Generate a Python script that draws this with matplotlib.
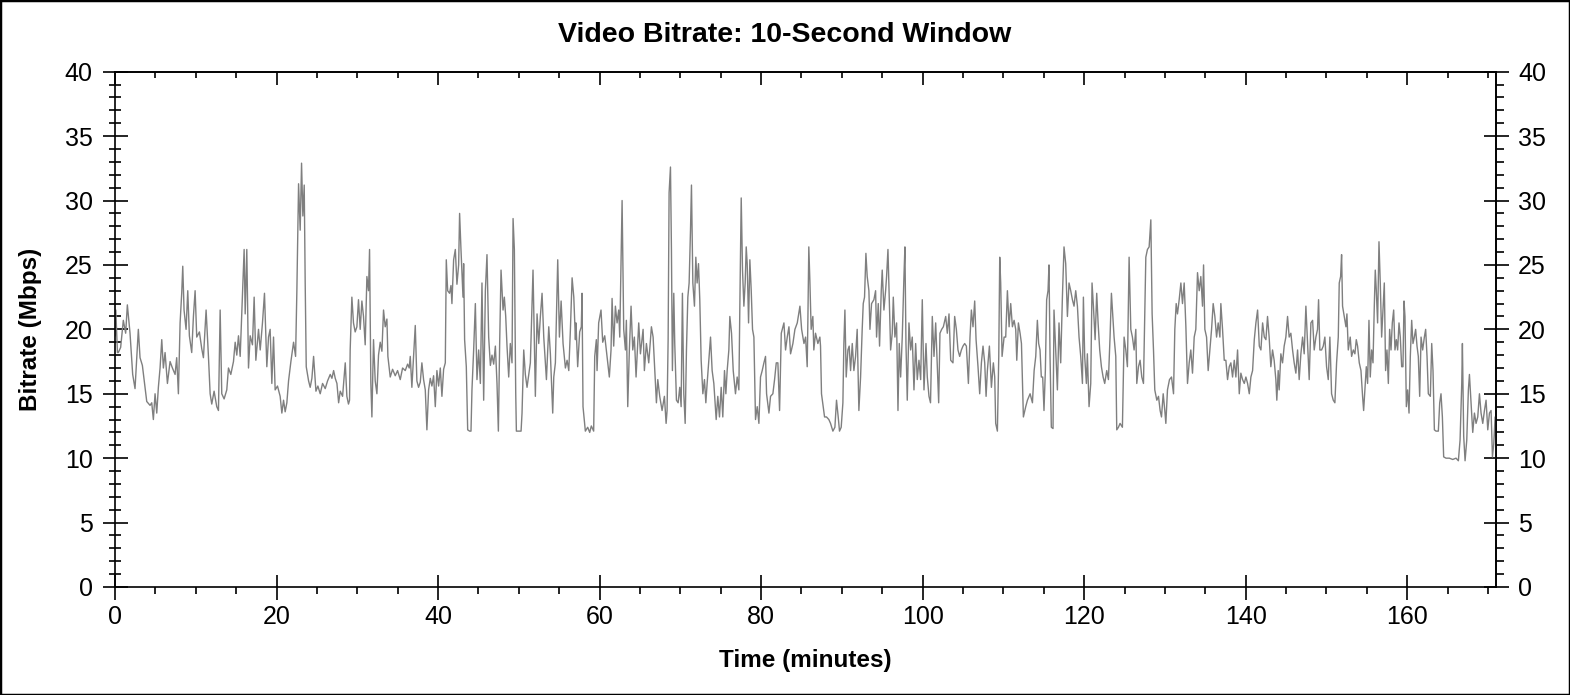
import matplotlib
matplotlib.use("Agg")
import matplotlib.pyplot as plt
from matplotlib.patches import Rectangle
from matplotlib.ticker import MultipleLocator

plt.rcParams['font.family'] = ['Liberation Sans', 'DejaVu Sans']

title = "Video Bitrate: 10-Second Window"
x_label = "Time (minutes)"
y_label = "Bitrate (Mbps)"

# 10-second window bitrate (minutes, Mbps)
minutes = [
    0.0, 0.1, 0.3, 0.41, 0.70, 1.03, 1.32, 1.53, 1.86, 2.19, 2.48, 2.89, 3.10, 3.39, 3.72, 3.93,
    4.34, 4.55, 4.75, 4.96, 5.17, 5.37, 5.58, 5.79, 5.99, 6.20, 6.49, 6.82, 7.11, 7.44, 7.64, 7.85,
    8.06, 8.26, 8.39, 8.55, 8.80, 9.01, 9.21, 9.50, 9.71, 9.92, 10.12, 10.45, 10.74, 10.95, 11.28,
    11.57, 11.78, 11.98, 12.27, 12.60, 12.81, 13.02, 13.22, 13.51, 13.84, 14.05, 14.34, 14.67,
    14.88, 15.08, 15.29, 15.50, 15.83, 15.99, 16.12, 16.32, 16.53, 16.74, 17.02, 17.23, 17.44,
    17.77, 17.98, 18.26, 18.51, 18.80, 19.01, 19.21, 19.42, 19.63, 19.83, 20.12, 20.45, 20.66,
    20.87, 21.07, 21.28, 21.49, 21.78, 22.11, 22.36, 22.52, 22.73, 22.93, 23.10, 23.26, 23.43,
    23.55, 23.68, 23.97, 24.17, 24.38, 24.59, 24.88, 25.12, 25.41, 25.70, 26.03, 26.32, 26.65,
    26.86, 27.07, 27.27, 27.48, 27.69, 27.89, 28.18, 28.51,
    28.71, 28.91, 29.04, 29.12, 29.33, 29.53, 29.74, 29.95, 30.15, 30.36, 30.57, 30.77, 30.98,
    31.19, 31.39, 31.52, 31.68, 31.81, 32.01, 32.22, 32.43, 32.63, 32.84, 33.05, 33.25, 33.46,
    33.67, 33.79, 34.08, 34.37, 34.70, 34.99, 35.32, 35.61, 35.94, 36.23, 36.43, 36.56, 36.76,
    36.97, 37.18, 37.38, 37.59, 37.80, 38.00, 38.21, 38.42, 38.62, 38.83, 39.04, 39.24, 39.45,
    39.66, 39.86, 40.07, 40.28, 40.48, 40.69, 40.90, 41.02, 41.19, 41.43, 41.60, 41.72, 41.93,
    42.14, 42.34, 42.55, 42.67, 42.84, 43.09, 43.17, 43.29, 43.50, 43.67, 43.91, 44.08, 44.20,
    44.41, 44.62, 44.82, 45.03, 45.24, 45.44, 45.65, 45.86, 46.06, 46.27, 46.48, 46.68, 46.89,
    47.10, 47.30, 47.47, 47.63, 47.80, 48.05, 48.21, 48.38, 48.54, 48.75, 48.95, 49.16, 49.29,
    49.45, 49.62, 49.70, 49.99, 50.28, 50.40, 50.61, 50.81, 51.02, 51.23, 51.43, 51.76, 52.05,
    52.26, 52.47, 52.67, 52.88, 53.09, 53.42, 53.71, 53.91, 54.20, 54.33, 54.53, 54.82, 55.03,
    55.24, 55.48, 55.77, 55.98, 56.19, 56.39, 56.60, 56.81, 57.01,
    57.08, 57.29, 57.54, 57.74, 57.83, 57.95, 58.24, 58.53, 58.78, 58.98, 59.27, 59.40, 59.60,
    59.69, 59.89, 60.18, 60.39, 60.64, 60.93, 61.21, 61.42, 61.55, 61.75, 61.96, 62.17, 62.37,
    62.50, 62.66, 62.79, 62.99, 63.20, 63.32, 63.49, 63.69, 63.90, 64.11, 64.31, 64.52, 64.85,
    65.06, 65.39, 65.55, 65.80, 66.09, 66.42, 66.63, 66.79, 67.04, 67.21, 67.45, 67.74, 68.03,
    68.24, 68.36, 68.49, 68.61, 68.78, 68.90, 69.02, 69.19, 69.31, 69.52, 69.73, 69.93, 70.10,
    70.26, 70.43, 70.60, 70.76, 70.93, 71.09, 71.26, 71.38, 71.55, 71.75, 71.92, 72.08, 72.25,
    72.41, 72.58, 72.79, 72.99, 73.16, 73.32, 73.53, 73.74, 73.94, 74.15, 74.44, 74.64, 74.85,
    75.06, 75.26, 75.47, 75.64, 75.80, 76.01, 76.13, 76.34, 76.55, 76.83, 77.04, 77.25, 77.37,
    77.54, 77.70, 77.87, 78.03, 78.16, 78.28, 78.45, 78.61, 78.78, 78.94, 79.11, 79.31, 79.52,
    79.73, 79.93, 80.14, 80.35, 80.55, 80.68, 80.97, 81.17, 81.46, 81.67, 81.88, 82.08, 82.29,
    82.50, 82.83, 83.03, 83.24, 83.45, 83.65, 83.94, 84.19, 84.48, 84.81, 85.02, 85.31, 85.51,
    85.71, 85.79, 85.91, 86.04, 86.20, 86.41, 86.53, 86.74, 87.03, 87.28, 87.36, 87.48, 87.69,
    87.86, 88.10, 88.39, 88.60, 88.89, 89.14, 89.34, 89.55, 89.71, 89.92, 90.13, 90.25, 90.38,
    90.54, 90.75, 90.91, 91.08, 91.29, 91.49, 91.70, 91.90, 92.11, 92.32, 92.52, 92.65, 92.81,
    92.98, 93.14, 93.35, 93.48, 93.68, 93.97, 94.18, 94.30, 94.51, 94.67, 94.88, 95.00, 95.21,
    95.42, 95.54, 95.71, 95.87, 96.04, 96.24, 96.37, 96.57, 96.78, 96.95, 97.11, 97.28, 97.48,
    97.69, 97.81, 97.94, 98.10, 98.31, 98.52, 98.72, 98.93, 99.14, 99.34, 99.55, 99.76, 99.96,
    100.17, 100.42, 100.58, 100.79, 100.98, 101.20, 101.41, 101.62, 101.82, 101.99, 102.15,
    102.36, 102.57, 102.86, 103.06, 103.27, 103.48, 103.76, 103.97, 104.18, 104.38, 104.59,
    104.80, 105.00, 105.21, 105.42, 105.67, 105.87, 106.04, 106.24, 106.45, 106.62, 106.86,
    107.07, 107.28, 107.48, 107.69, 107.86, 108.02, 108.27, 108.52, 108.76, 108.93, 109.05,
    109.26, 109.43, 109.55, 109.67, 109.84, 110.09, 110.29, 110.50, 110.71, 110.91, 111.12,
    111.33, 111.53, 111.66, 111.86, 112.07, 112.24, 112.48, 112.77, 112.98, 113.31, 113.60,
    113.81, 114.01,
    114.21, 114.37, 114.54, 114.70, 114.87, 115.03, 115.20, 115.36, 115.53, 115.65, 115.78,
    115.94, 116.15, 116.27, 116.48, 116.69, 116.89, 117.10, 117.31, 117.51, 117.72, 117.93,
    118.13, 118.34, 118.55, 118.75, 118.96, 119.17, 119.37, 119.58, 119.79, 119.91, 120.07,
    120.28, 120.40, 120.61, 120.82, 120.98, 121.15, 121.36, 121.56, 121.73, 121.93, 122.14,
    122.35, 122.55, 122.80, 123.01, 123.21, 123.38, 123.55, 123.71, 123.92, 124.04, 124.25,
    124.45, 124.74, 124.95, 125.16, 125.36, 125.57, 125.78, 125.98, 126.19, 126.40, 126.52,
    126.73, 126.93, 127.14, 127.35, 127.51, 127.64, 127.84, 128.05, 128.26, 128.42, 128.59,
    128.75, 129.00, 129.21, 129.41, 129.58, 129.79, 129.99, 130.12, 130.32, 130.57, 130.82,
    131.07, 131.23, 131.40, 131.56, 131.77, 131.98, 132.18, 132.39, 132.60, 132.80, 133.01,
    133.21, 133.42, 133.63, 133.83, 134.04, 134.25, 134.45, 134.66, 134.79, 134.95, 135.16,
    135.36, 135.57, 135.78, 135.98, 136.19, 136.40, 136.60, 136.81, 136.93, 137.14, 137.35,
    137.55, 137.76, 137.97, 138.17, 138.38, 138.59, 138.79, 139.00, 139.21, 139.41, 139.62,
    139.83, 140.03, 140.24, 140.45, 140.65, 140.86, 141.07, 141.27, 141.48, 141.69, 141.89,
    142.10, 142.31, 142.51,
    142.71, 142.91, 143.12, 143.33, 143.53, 143.74, 143.86, 144.03, 144.15, 144.36, 144.57,
    144.77, 144.98, 145.19, 145.39, 145.60, 145.81, 146.01, 146.22, 146.43, 146.63, 146.84,
    147.05, 147.25, 147.46, 147.67, 147.87, 148.08, 148.29, 148.49, 148.70, 148.90, 149.03,
    149.19, 149.40, 149.61, 149.81, 150.02, 150.23, 150.43, 150.64, 150.85, 151.05, 151.26,
    151.47, 151.59, 151.76, 151.88, 152.00, 152.21, 152.42, 152.54, 152.71, 152.95, 153.12,
    153.33, 153.53, 153.70, 153.86, 154.07, 154.28, 154.48, 154.61, 154.77, 154.94, 155.10,
    155.27, 155.43, 155.60, 155.77, 155.93, 156.05, 156.18, 156.34, 156.51, 156.67, 156.84,
    157.00, 157.17, 157.33, 157.50, 157.67, 157.83, 158.00, 158.16, 158.33, 158.49, 158.66,
    158.82, 158.99, 159.15, 159.32, 159.48, 159.61, 159.73, 159.90, 160.06, 160.23, 160.39,
    160.56, 160.72, 160.89, 161.05, 161.22, 161.38, 161.55, 161.72, 161.92, 162.13, 162.29,
    162.46, 162.62, 162.87, 163.04, 163.20, 163.37, 163.57, 163.86, 164.03, 164.19, 164.36,
    164.52, 164.81, 165.23, 165.64, 166.05, 166.34, 166.55, 166.76, 166.84, 167.00, 167.17,
    167.38, 167.58, 167.71, 167.91, 168.12, 168.33, 168.53, 168.74, 168.95, 169.15, 169.36,
    169.57, 169.77, 169.98, 170.19, 170.39, 170.56, 170.72, 170.89, 171.01, 171.1,
]

mbps = [
    19.5, 21.5, 18.2, 18.2, 18.6, 20.7, 19.7, 21.9, 19.7, 16.5, 15.4, 20.0, 17.8, 17.2, 15.5, 14.4,
    14.1, 14.3, 13.0, 15.0, 13.5, 15.5, 17.0, 19.2, 17.0, 18.2, 15.8, 17.5, 17.0, 16.5, 17.8, 15.0,
    20.5, 22.8, 24.9, 21.5, 20.0, 23.0, 19.5, 18.2, 21.0, 23.0, 19.4, 19.8, 18.5, 17.8, 21.5,
    17.9, 15.0, 14.2, 15.2, 14.0, 13.7, 21.5, 15.0, 14.6, 15.3, 17.0, 16.5, 17.5,
    19.0, 18.0, 19.5, 17.9, 23.6, 26.2, 21.2, 26.2, 17.0, 19.5, 18.8, 22.5, 17.6,
    20.0, 18.4, 20.5, 22.8, 17.1, 19.4, 20.0, 15.8, 19.4, 15.3, 15.6, 14.8, 13.5,
    14.5, 13.6, 14.3, 16.0, 17.5, 19.0, 17.9, 23.0, 31.3, 27.7, 32.9, 28.8, 31.2,
    23.6, 17.1, 16.0, 15.5, 16.2, 17.9, 15.2, 15.6, 15.0, 15.8, 15.4, 16.0, 16.5,
    16.2, 16.8, 16.2, 15.8, 14.3, 15.2, 14.8, 17.4,
    14.8, 14.2, 14.5, 18.4, 22.5, 20.5, 19.8, 20.2, 22.3, 20.0, 22.2, 21.0, 18.8,
    24.1, 23.0, 26.2, 15.8, 13.2, 19.2, 16.0, 15.0, 18.0, 19.0, 18.3, 21.5, 20.2,
    20.8, 17.9, 16.3, 16.9, 16.4, 16.8, 16.1, 17.0, 16.8, 17.3, 17.0, 17.9, 15.5,
    17.9, 20.3, 16.0, 15.5, 15.9, 17.4, 16.1, 15.3, 12.2, 15.3, 16.2, 15.6, 16.4,
    14.0, 16.8, 15.6, 17.0, 14.8, 16.9, 17.4, 25.4, 23.0, 22.8, 23.4, 22.0, 25.4,
    26.2, 23.5, 25.0, 29.0, 26.2, 22.5, 25.1, 19.2, 17.1, 12.2, 12.1, 12.1, 15.3,
    18.4, 22.0, 16.1, 18.4, 15.8, 23.6, 14.5, 23.0, 25.8, 19.4, 17.2, 18.0, 17.3,
    18.7, 15.8, 12.1, 18.9, 24.6, 21.5, 22.5, 21.0, 18.7, 16.3, 18.9, 17.4, 28.6,
    26.2, 15.0, 12.1, 12.1, 12.1, 13.5, 18.4, 16.5, 15.5, 16.5, 17.4, 24.6, 14.8,
    21.2, 18.9, 21.0, 22.8, 19.4, 16.1, 20.2, 18.1, 13.5, 16.3, 17.4, 25.4, 19.4,
    22.2, 18.9, 17.0, 17.6, 16.8, 20.0, 24.0, 22.5, 19.2,
    20.5, 17.1, 19.8, 20.2, 22.8, 14.0, 12.1, 12.4, 12.0, 12.5, 12.1, 17.9, 19.2,
    16.8, 20.5, 21.5, 19.0, 19.5, 17.9, 16.3, 18.4, 22.4, 18.7, 21.8, 20.5, 21.5,
    19.4, 25.1, 30.0, 20.0, 18.4, 20.7, 14.0, 18.4, 21.8, 18.4, 19.4, 16.3, 20.5,
    18.1, 20.0, 16.8, 18.9, 17.4, 20.2, 19.4, 17.4, 14.3, 16.1, 14.8, 13.7, 14.8,
    12.7, 13.7, 19.2, 30.6, 32.6, 26.2, 16.8, 22.8, 18.9, 14.5, 14.3, 15.5, 14.0,
    22.8, 15.0, 12.7, 18.4, 22.5, 23.6, 27.7, 31.2, 23.6, 21.8, 25.6, 23.6, 25.1,
    22.3, 17.6, 15.0, 16.1, 14.3, 15.8, 17.6, 19.4, 16.8, 15.8, 13.0, 14.8, 13.2,
    15.5, 13.2, 16.8, 15.0, 16.8, 18.4, 21.0, 19.7, 16.8, 15.0, 16.3, 15.3, 21.8,
    30.2, 24.6, 21.8, 23.6, 26.4, 25.1, 20.5, 25.4, 23.0, 20.0, 19.4, 13.0, 14.0,
    12.7, 16.3, 16.8, 17.4, 17.9, 15.0, 13.5, 14.8, 15.0, 16.1, 17.4, 17.4, 13.7,
    19.7, 20.5, 18.4, 19.4, 20.2, 18.1, 18.9, 20.0, 20.5, 21.8, 20.0, 18.9, 19.4,
    17.1, 20.5, 26.4, 23.8, 20.0, 21.0, 18.4, 19.7, 18.9, 19.4, 18.7, 15.0, 14.0,
    13.2, 13.2, 13.0, 12.7, 12.1, 12.4, 14.5, 13.2, 12.1, 12.4, 14.3, 18.9, 21.5,
    16.3, 18.4, 18.7, 16.8, 18.9, 16.8, 17.9, 20.0, 13.7, 16.3, 20.0, 22.0, 22.5,
    25.9, 24.1, 23.0, 20.0, 22.0, 22.3, 23.0, 19.4, 22.0, 18.7, 23.0, 24.6, 21.5,
    23.0, 24.1, 26.2, 22.5, 18.4, 19.7, 22.5, 19.4, 20.5, 13.7, 18.9, 16.3, 19.4,
    24.1, 26.4, 18.9, 14.5, 20.5, 18.4, 19.4, 15.3, 18.9, 16.1, 17.6, 16.1, 22.3,
    15.3, 18.9, 16.3, 14.8, 14.3, 21.0, 17.9, 20.5, 17.1, 14.3, 19.7,
    20.0, 20.2, 21.0, 19.7, 21.2, 17.6, 17.4, 21.0, 20.0, 18.4, 17.9,
    18.4, 18.7, 18.9, 18.7, 15.8, 19.4, 21.5, 20.2, 22.2, 19.2, 17.1,
    15.0, 17.4, 18.7, 17.4, 14.8, 16.8, 18.7, 15.5, 17.4, 16.3, 12.7,
    12.1, 17.9, 25.6, 23.6, 17.9, 19.4, 19.4, 23.0, 20.2, 22.0, 20.2,
    20.7, 20.0, 17.6, 20.5, 19.7, 18.9, 13.2, 14.0, 14.5, 15.0, 14.3,
    16.8, 17.9,
    20.7, 18.9, 18.4, 16.3, 16.3, 13.7, 16.8, 22.3, 23.0, 25.0, 17.9,
    12.4, 12.3, 21.5, 18.4, 15.3, 20.5, 17.4, 22.5, 26.4, 25.1, 21.0,
    23.6, 23.0, 22.3, 21.8, 23.0, 21.8, 19.4, 17.9, 15.8, 22.5, 17.9,
    15.8, 18.1, 14.0, 15.8, 23.6, 21.8, 19.2, 22.8, 20.5, 18.4, 17.1,
    16.3, 15.8, 16.8, 16.1, 19.4, 22.8, 21.0, 19.4, 17.9, 12.2, 12.4,
    12.7, 12.4, 19.4, 18.4, 17.1, 25.6, 20.0, 19.4, 18.4, 20.0, 15.8,
    17.1, 17.6, 16.3, 15.8, 21.2, 25.6, 26.2, 26.4, 28.5, 21.2, 18.4,
    15.3, 14.5, 14.8, 13.7, 13.2, 15.0, 13.7, 12.7, 15.3, 16.1, 16.3,
    15.0, 20.0, 22.0, 21.2, 22.3, 23.6, 22.0, 23.6, 20.2, 15.8, 17.4,
    18.4, 16.6, 19.4, 20.0, 24.4, 23.0, 24.1, 21.8, 25.0, 20.0, 19.4,
    16.8, 18.4, 20.0, 22.0, 21.0, 19.4, 20.5, 19.4, 22.0, 20.0, 17.6,
    17.6, 16.1, 17.1, 17.4, 16.3, 17.6, 16.3, 18.4, 15.0, 16.6, 16.1,
    15.8, 16.3, 15.8, 15.0, 16.3, 16.8, 19.2, 20.5, 21.5, 18.7, 18.4,
    20.5, 19.4, 19.2,
    21.0, 19.4, 17.1, 18.4, 17.6, 16.1, 14.5, 16.8, 15.3, 18.1, 17.4,
    18.7, 19.4, 21.0, 19.4, 19.7, 18.4, 17.4, 16.6, 18.4, 16.1, 18.1,
    19.4, 18.1, 21.8, 18.9, 16.1, 20.5, 20.7, 18.4, 19.4, 20.0, 22.3,
    18.4, 18.4, 18.7, 19.4, 17.1, 16.1, 19.4, 15.0, 14.5, 14.3, 17.4,
    19.4, 23.6, 24.1, 25.8, 21.8, 21.0, 20.2, 21.2, 18.4, 19.4, 17.9,
    18.4, 18.1, 19.2, 18.7, 17.4, 16.8, 14.8, 13.7, 15.3, 17.1, 15.8,
    20.7, 16.3, 18.4, 17.4, 21.8, 24.6, 23.0, 20.5, 26.8, 23.6, 19.4,
    21.5, 23.6, 16.8, 18.4, 15.8, 20.0, 18.4, 20.5, 21.5, 18.4, 19.2,
    18.4, 20.5, 19.4, 17.1, 17.1, 22.2, 21.0, 14.0, 15.3, 13.5, 17.9,
    20.7, 18.9, 19.4, 20.0, 18.7, 17.9, 14.8, 19.4, 18.4, 19.4, 20.0,
    17.9, 15.0, 14.8, 18.9, 16.8, 12.2, 12.1, 12.1, 14.3, 15.0, 13.2,
    10.1, 10.0, 10.0, 9.9, 10.0, 9.8, 11.4, 15.8, 18.9, 11.7, 9.8,
    11.4, 15.3, 16.5, 14.3, 12.0, 13.5, 12.7, 13.2, 15.0, 13.5, 12.7,
    13.7, 14.5, 12.2, 13.5, 13.7, 10.1, 11.1, 13.2, 10.1, 8.0,
]

x_max = 171.0
y_max = 40

fig = plt.figure(figsize=(15.7, 6.95), dpi=100)
ax = fig.add_axes([115 / 1570, 1 - 587 / 695, (1496 - 115) / 1570, (587 - 71.7) / 695])

ax.plot(minutes, mbps, color='#7f7f7f', linewidth=1.0)

ax.set_xlim(0, x_max)
ax.set_ylim(0, y_max)

ax.xaxis.set_major_locator(MultipleLocator(20))
ax.xaxis.set_minor_locator(MultipleLocator(5))
ax.yaxis.set_major_locator(MultipleLocator(5))
ax.yaxis.set_minor_locator(MultipleLocator(1))

for side in ['left', 'bottom', 'top', 'right']:
    ax.spines[side].set_linewidth(1.2)

ax.tick_params(axis='x', which='major', direction='inout', length=18, width=1.2,
               labelsize=18, pad=4)
ax.tick_params(axis='x', which='minor', direction='out', length=5, width=1.2)
ax.tick_params(axis='y', which='major', direction='inout', length=18, width=1.2,
               labelsize=18, pad=7)
ax.tick_params(axis='y', which='minor', direction='inout', length=9, width=1.2)

# right edge: same labels, minor ticks point outward
right = ax.secondary_yaxis('right')
right.yaxis.set_major_locator(MultipleLocator(5))
right.yaxis.set_minor_locator(MultipleLocator(1))
right.tick_params(which='major', direction='inout', length=18, width=1.2, labelsize=18, pad=7)
right.tick_params(which='minor', direction='out', length=6, width=1.2)
right.spines['right'].set_linewidth(1.2)

# top edge carries inward ticks only
top = ax.secondary_xaxis('top')
top.xaxis.set_major_locator(MultipleLocator(20))
top.xaxis.set_minor_locator(MultipleLocator(5))
top.tick_params(which='major', direction='in', length=9, width=1.2, labeltop=False)
top.tick_params(which='minor', direction='in', length=4, width=1.2)
top.spines['top'].set_linewidth(1.2)

ax.set_xlabel(x_label, fontsize=17.5, fontweight='bold')
ax.set_ylabel(y_label, fontsize=17.5, fontweight='bold')
ax.xaxis.set_label_coords(0.5, -0.12)
ax.yaxis.set_label_coords(-0.053, 0.5)

fig.text(0.5, 1 - 35 / 695, title, ha='center', va='center', fontsize=20.5, fontweight='bold')

# thin frame around the whole picture
fig.patches.append(Rectangle((0, 0), 1, 1, transform=fig.transFigure, fill=False,
                             edgecolor='black', linewidth=2.5))

fig.savefig('out.png', dpi=100)
